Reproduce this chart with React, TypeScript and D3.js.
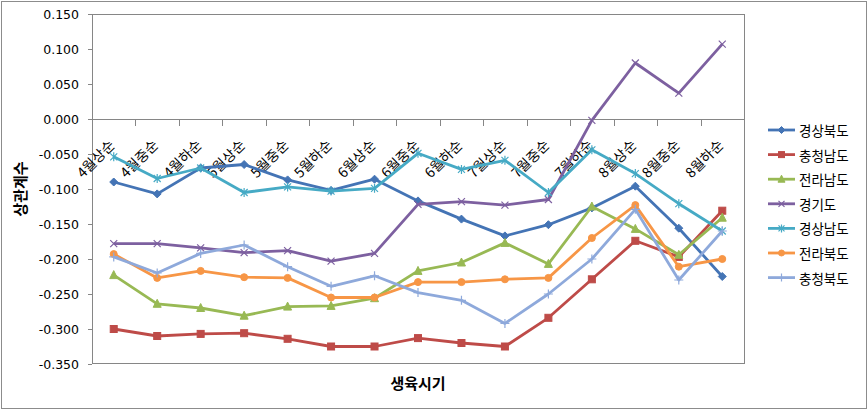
import React from "react";
import * as d3 from "d3";

const categories = ["4월상순","4월중순","4월하순","5월상순","5월중순","5월하순","6월상순","6월중순","6월하순","7월상순","7월중순","7월하순","8월상순","8월중순","8월하순"];
const yTickValues = [0.15, 0.1, 0.05, 0, -0.05, -0.1, -0.15, -0.2, -0.25, -0.3, -0.35];

const seriesNames = ["경상북도","충청남도","전라남도","경기도","경상남도","전라북도","충청북도"];
const gyeongbuk = [-0.090,-0.107,-0.070,-0.065,-0.087,-0.102,-0.086,-0.117,-0.143,-0.167,-0.151,-0.127,-0.096,-0.156,-0.225];
const chungnam = [-0.300,-0.310,-0.307,-0.306,-0.314,-0.325,-0.325,-0.313,-0.320,-0.325,-0.284,-0.229,-0.174,-0.197,-0.131];
const jeonnam = [-0.223,-0.264,-0.270,-0.281,-0.268,-0.267,-0.256,-0.217,-0.205,-0.177,-0.207,-0.125,-0.157,-0.194,-0.141];
const gyeonggi = [-0.178,-0.178,-0.184,-0.191,-0.188,-0.203,-0.192,-0.122,-0.118,-0.123,-0.115,-0.002,0.080,0.037,0.107];
const gyeongnam = [-0.054,-0.085,-0.070,-0.105,-0.097,-0.103,-0.099,-0.049,-0.072,-0.059,-0.105,-0.044,-0.078,-0.121,-0.160];
const jeonbuk = [-0.193,-0.227,-0.217,-0.226,-0.227,-0.255,-0.255,-0.233,-0.233,-0.229,-0.227,-0.170,-0.123,-0.211,-0.200];
const chungbuk = [-0.197,-0.220,-0.192,-0.180,-0.211,-0.239,-0.224,-0.248,-0.259,-0.292,-0.250,-0.200,-0.129,-0.230,-0.160];

const seriesValues = [gyeongbuk, chungnam, jeonnam, gyeonggi, gyeongnam, jeonbuk, chungbuk];
const seriesColors = ["#4474B5","#BE4B48","#98B954","#7D60A0","#46AAC5","#F79646","#8EA9DB"];
const seriesMarkers = ["diamond","square","triangle","x","star","circle","plus"];

const W = 868, H = 410;
const plot = { left: 92, right: 744, top: 14, bottom: 364 };

function Marker({ type, cx, cy, color, s }: { type: string; cx: number; cy: number; color: string; s: number }) {
  const h = s / 2;
  switch (type) {
    case "diamond":
      return <path d={`M${cx},${cy - h - 0.5}L${cx + h + 0.5},${cy}L${cx},${cy + h + 0.5}L${cx - h - 0.5},${cy}Z`} fill={color} stroke={color} strokeWidth={1} />;
    case "square":
      return <rect x={cx - h} y={cy - h} width={s} height={s} fill={color} stroke={color} strokeWidth={1} />;
    case "triangle":
      return <path d={`M${cx},${cy - h - 1}L${cx + h + 0.5},${cy + h}L${cx - h - 0.5},${cy + h}Z`} fill={color} stroke={color} strokeWidth={1} />;
    case "circle":
      return <circle cx={cx} cy={cy} r={h} fill={color} stroke={color} strokeWidth={1} />;
    case "x":
      return <path d={`M${cx - h},${cy - h}L${cx + h},${cy + h}M${cx - h},${cy + h}L${cx + h},${cy - h}`} stroke={color} strokeWidth={1.2} fill="none" />;
    case "star":
      return <path d={`M${cx - h},${cy - h}L${cx + h},${cy + h}M${cx - h},${cy + h}L${cx + h},${cy - h}M${cx},${cy - h - 1}L${cx},${cy + h + 1}`} stroke={color} strokeWidth={1.2} fill="none" />;
    case "plus":
      return <path d={`M${cx - h - 1},${cy}L${cx + h + 1},${cy}M${cx},${cy - h - 1}L${cx},${cy + h + 1}`} stroke={color} strokeWidth={1.2} fill="none" />;
    default:
      return null;
  }
}

export default function App() {
  const x = d3.scaleBand<string>().domain(categories).range([plot.left, plot.right]);
  const bw = x.bandwidth();
  const cxOf = (c: string) => (x(c) as number) + bw / 2;
  const y = d3.scaleLinear().domain([-0.35, 0.15]).range([plot.bottom, plot.top]);
  const y0 = y(0);
  const line = d3.line<number>().x((_, i) => cxOf(categories[i])).y((v) => y(v));
  const boundaries = d3.range(categories.length + 1).map((k) => plot.left + k * bw);
  const numFont = "'DejaVu Sans', 'Noto Sans CJK KR', sans-serif";
  const krFont = "'Noto Sans CJK KR', 'Noto Sans', sans-serif";

  return (
    <svg width={W} height={H} style={{ position: "absolute", left: 0, top: 0, background: "#fff" }}>
      <rect x={1.5} y={1.5} width={W - 3} height={H - 3} fill="#fff" stroke="#8c8c8c" strokeWidth={1} />
      <rect x={plot.left + 0.5} y={plot.top + 0.5} width={plot.right - plot.left} height={plot.bottom - plot.top - 1} fill="none" stroke="#868686" strokeWidth={1} />
      {yTickValues.map((v) => (
        <g key={v}>
          <line x1={plot.left - 4} x2={plot.left} y1={Math.round(y(v)) + 0.5} y2={Math.round(y(v)) + 0.5} stroke="#868686" />
          <text x={79} y={y(v)} textAnchor="end" dominantBaseline="central" fontFamily={numFont} fontSize={12.5} fill="#000">
            {v.toFixed(3)}
          </text>
        </g>
      ))}
      <line x1={plot.left} x2={plot.right} y1={Math.round(y0) + 0.5} y2={Math.round(y0) + 0.5} stroke="#868686" />
      {boundaries.map((bx, k) => (
        <line key={k} x1={Math.round(bx) + 0.5} x2={Math.round(bx) + 0.5} y1={y0} y2={y0 + 7} stroke="#868686" />
      ))}
      {categories.map((c) => {
        const ax = cxOf(c) + 2;
        const ay = y0 + 27;
        return (
          <text key={c} x={ax} y={ay} transform={`rotate(-45 ${ax} ${ay})`} textAnchor="end" fontFamily={krFont} fontSize={14} fill="#000">
            {c}
          </text>
        );
      })}
      {seriesValues.map((vals, si) => (
        <g key={seriesNames[si]}>
          <path d={line(vals) || ""} fill="none" stroke={seriesColors[si]} strokeWidth={2.8} strokeLinejoin="round" />
          {vals.map((v, i) => (
            <Marker key={i} type={seriesMarkers[si]} cx={cxOf(categories[i])} cy={y(v)} color={seriesColors[si]} s={7} />
          ))}
        </g>
      ))}
      <text x={0} y={0} transform={`translate(26 ${(plot.top + plot.bottom) / 2}) rotate(-90)`} textAnchor="middle" fontFamily={krFont} fontWeight="bold" fontSize={15} fill="#000">
        상관계수
      </text>
      <text x={(plot.left + plot.right) / 2} y={389} textAnchor="middle" fontFamily={krFont} fontWeight="bold" fontSize={15} fill="#000">
        생육시기
      </text>
      {seriesNames.map((n, si) => {
        const ly = 130 + si * 24.6;
        return (
          <g key={n}>
            <line x1={768} x2={795} y1={ly} y2={ly} stroke={seriesColors[si]} strokeWidth={2.8} />
            <Marker type={seriesMarkers[si]} cx={781.5} cy={ly} color={seriesColors[si]} s={6} />
            <text x={799} y={ly} dominantBaseline="central" fontFamily={krFont} fontSize={13.5} fill="#000">
              {n}
            </text>
          </g>
        );
      })}
    </svg>
  );
}
